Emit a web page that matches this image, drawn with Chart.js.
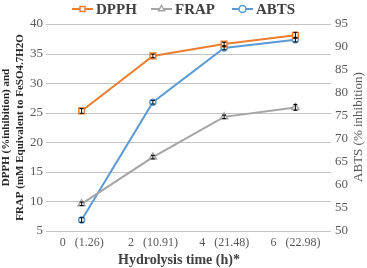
<!DOCTYPE html>
<html>
<head>
<meta charset="utf-8">
<script src="https://cdn.jsdelivr.net/npm/chart.js@4.4.1/dist/chart.umd.min.js"></script>
<style>
  html, body { margin: 0; padding: 0; background: #fff; }
  #wrap { width: 367px; height: 268px; position: relative; }
</style>
</head>
<body>
<div id="wrap"><canvas id="chart"></canvas></div>
<script>
const labels = ['0   (1.26)', '2   (10.91)', '4   (21.48)', '6   (22.98)'];
const dpph = [25.3, 34.6, 36.6, 38.1];
const frap = [9.6, 17.5, 24.3, 25.9];
const abts = [52.4, 78.0, 89.8, 91.6];
const dpphErr = [0.4, 0.3, 0.3, 0.5];
const frapErr = [0.3, 0.3, 0.3, 0.5];
const abtsErr = [0.5, 0.4, 0.4, 0.5];
const leftTicks = [5, 10, 15, 20, 25, 30, 35, 40];

const serif = '"Liberation Serif", "Times New Roman", serif';
const tickColor = '#595959';

// horizontal gridlines at the left axis ticks, drawn behind everything
const gridLines = {
    id: 'gridLines',
    afterDraw(chart) {
        const ctx = chart.ctx;
        const a = chart.chartArea;
        const ys = chart.scales.y;
        ctx.save();
        ctx.globalCompositeOperation = 'destination-over';
        ctx.fillStyle = '#C4C4C4';
        leftTicks.forEach(v => {
            const y = Math.round(ys.getPixelForValue(v));
            ctx.fillRect(a.left, y, a.right - a.left, 1);
        });
        ctx.restore();
    }
};

// small black error bars on every point
const errorBars = {
    id: 'errorBars',
    afterDatasetsDraw(chart) {
        const ctx = chart.ctx;
        ctx.save();
        ctx.strokeStyle = '#000';
        ctx.lineWidth = 1;
        chart.data.datasets.forEach((ds, i) => {
            const meta = chart.getDatasetMeta(i);
            const scale = chart.scales[ds.yAxisID];
            meta.data.forEach((pt, j) => {
                const v = ds.data[j], e = ds.err[j];
                const y1 = scale.getPixelForValue(v + e);
                const y2 = scale.getPixelForValue(v - e);
                ctx.beginPath();
                ctx.moveTo(pt.x, y1); ctx.lineTo(pt.x, y2);
                ctx.moveTo(pt.x - 2, y1); ctx.lineTo(pt.x + 2, y1);
                ctx.moveTo(pt.x - 2, y2); ctx.lineTo(pt.x + 2, y2);
                ctx.stroke();
            });
        });
        ctx.restore();
    }
};

// legend with line + marker, x axis title, right axis title
const extras = {
    id: 'extras',
    afterDraw(chart) {
        const ctx = chart.ctx;
        const items = [
            { text: 'DPPH', color: '#ED7D31', style: 'rect', x: 72 },
            { text: 'FRAP', color: '#A5A5A5', style: 'triangle', x: 151 },
            { text: 'ABTS', color: '#5B9BD5', style: 'circle', x: 232 }
        ];
        const y = 9;
        ctx.save();
        ctx.font = 'bold 15px ' + serif;
        ctx.textBaseline = 'middle';
        items.forEach(it => {
            ctx.strokeStyle = it.color;
            ctx.lineWidth = 2;
            ctx.beginPath();
            ctx.moveTo(it.x, y); ctx.lineTo(it.x + 21, y);
            ctx.stroke();
            ctx.fillStyle = '#fff';
            ctx.lineWidth = 1.5;
            Chart.helpers.drawPoint(ctx, { pointStyle: it.style, radius: 3.5, borderWidth: 1.5, rotation: 0 }, it.x + 10.5, y);
            ctx.fillStyle = '#404040';
            ctx.fillText(it.text, it.x + 24, y + 1);
        });
        ctx.font = 'bold 14px ' + serif;
        ctx.textAlign = 'center';
        ctx.fillStyle = '#404040';
        ctx.fillText('Hydrolysis time (h)*', 179, 260);

        ctx.translate(359, 127);
        ctx.rotate(-Math.PI / 2);
        ctx.font = '13px ' + serif;
        ctx.fillStyle = '#595959';
        ctx.fillText('ABTS (% inhibition)', 0, 0);
        ctx.restore();
    }
};

new Chart(document.getElementById('chart').getContext('2d'), {
    type: 'line',
    data: {
        labels: labels,
        datasets: [
            {
                label: 'DPPH', data: dpph, err: dpphErr, yAxisID: 'y',
                borderColor: '#ED7D31', backgroundColor: '#fff',
                borderWidth: 2, pointStyle: 'rect', pointRadius: 4,
                pointBorderWidth: 1.5, tension: 0
            },
            {
                label: 'FRAP', data: frap, err: frapErr, yAxisID: 'y',
                borderColor: '#A5A5A5', backgroundColor: '#fff',
                borderWidth: 2, pointStyle: 'triangle', pointRadius: 4,
                pointBorderWidth: 1.5, tension: 0
            },
            {
                label: 'ABTS', data: abts, err: abtsErr, yAxisID: 'y1',
                borderColor: '#5B9BD5', backgroundColor: '#fff',
                borderWidth: 2, pointStyle: 'circle', pointRadius: 3,
                pointBorderWidth: 1.5, tension: 0
            }
        ]
    },
    options: {
        responsive: true,
        maintainAspectRatio: false,
        animation: false,
        layout: { padding: { top: 24, left: 0, right: 0, bottom: 0 } },
        plugins: {
            legend: { display: false },
            tooltip: { enabled: false }
        },
        scales: {
            x: {
                offset: true,
                grid: { display: false, drawTicks: false },
                border: { display: false },
                ticks: { color: tickColor, font: { family: serif, size: 12 }, maxRotation: 0, padding: 5 },
                afterFit(s) { s.height = 37; }
            },
            y: {
                position: 'left',
                min: 5, max: 40,
                ticks: { stepSize: 5, color: tickColor, font: { family: serif, size: 13 }, padding: 3 },
                grid: { display: false, drawTicks: false },
                border: { display: false },
                title: {
                    display: true,
                    text: ['DPPH (%inhibition) and', 'FRAP (mM Equivalent to FeSO4.7H2O'],
                    color: '#262626',
                    font: { family: serif, size: 11, weight: 'bold', lineHeight: 1.2 },
                    padding: 0
                },
                afterFit(s) { s.width = 46; }
            },
            y1: {
                position: 'right',
                min: 50, max: 95,
                ticks: { stepSize: 5, color: tickColor, font: { family: serif, size: 13 }, padding: 4 },
                grid: { display: false, drawTicks: false },
                border: { display: false },
                afterFit(s) { s.width = 36; }
            }
        }
    },
    plugins: [gridLines, errorBars, extras]
});
</script>
</body>
</html>
